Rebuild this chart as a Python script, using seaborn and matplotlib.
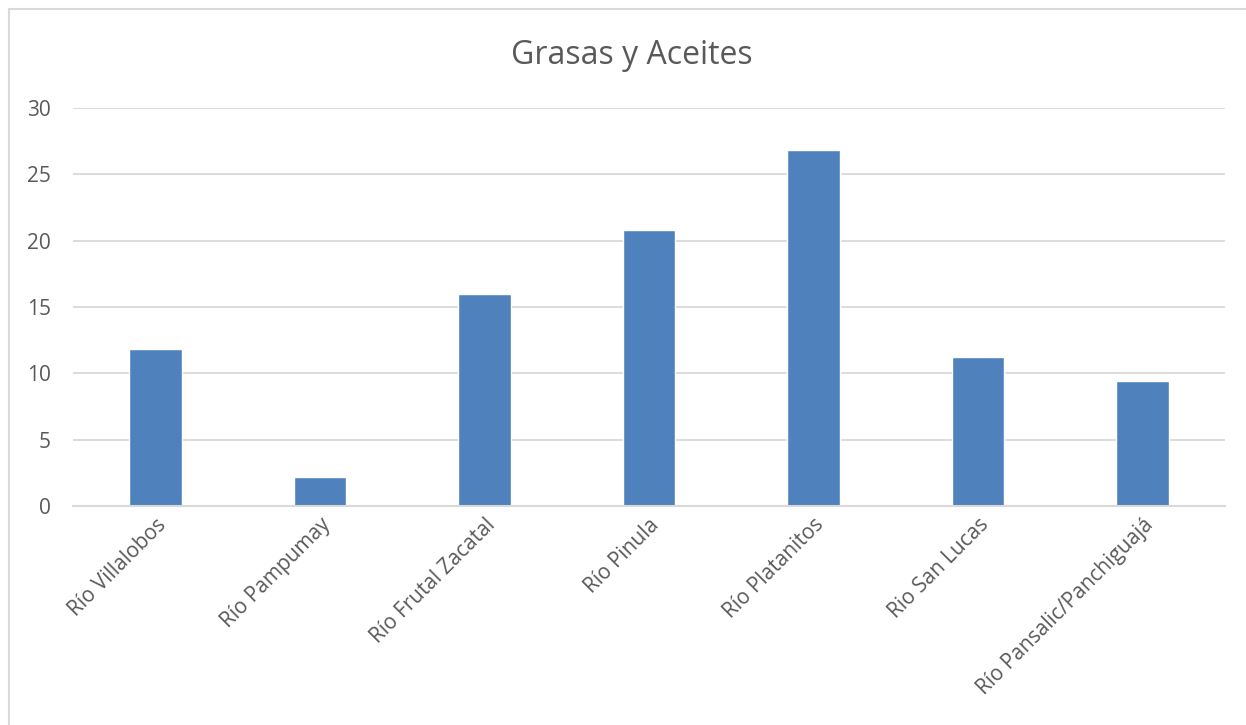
import numpy as np
import pandas as pd
import matplotlib
matplotlib.use("Agg")
import matplotlib.pyplot as plt
import seaborn as sns
from matplotlib.patches import Rectangle

# ── data ─────────────────────────────────────────────────────────────────────
rivers = ["Río Villalobos", "Río Pampumay", "Río Frutal Zacatal", "Río Pinula",
          "Río Platanitos", "Rio San Lucas", "Río Pansalic/Panchiguajá"]
values = [11.8, 2.2, 16.0, 20.8, 26.8, 11.2, 9.4]
yticks = [0, 5, 10, 15, 20, 25, 30]

BAR_COLOR = "#4F81BD"
TEXT_COLOR = "#595959"
GRID_COLOR = "#D9D9D9"

sns.set_theme(style="white")
plt.rcParams["font.family"] = ["Open Sans", "DejaVu Sans"]

df = pd.DataFrame({"river": rivers, "value": values})

fig = plt.figure(figsize=(12.46, 7.25), dpi=100)
ax = fig.add_axes([0.0586, 0.302, 0.9245, 0.549])

sns.barplot(data=df, x="river", y="value", color=BAR_COLOR, width=0.32,
            saturation=1, ax=ax, zorder=3)

ax.set_ylim(0, 30)
ax.set_yticks(yticks)
ax.set_xlim(-0.5, len(rivers) - 0.5)
ax.grid(axis="y", color=GRID_COLOR, lw=1.3, zorder=0)
ax.set_axisbelow(True)
for s in ["top", "right", "left"]:
    ax.spines[s].set_visible(False)
ax.spines["bottom"].set_color(GRID_COLOR)
ax.spines["bottom"].set_linewidth(1.5)
ax.spines["bottom"].set_zorder(4)

ax.set_xlabel("")
ax.set_ylabel("")
ax.tick_params(axis="y", length=0, pad=16, labelsize=15, labelcolor=TEXT_COLOR)
ax.tick_params(axis="x", length=0, pad=6, labelsize=15, labelcolor=TEXT_COLOR)
plt.setp(ax.get_xticklabels(), rotation=45, ha="right", rotation_mode="anchor")

fig.text(0.507, 0.924, "Grasas y Aceites", ha="center", va="center",
         fontsize=23, color=TEXT_COLOR)

# chart frame
fig.patches.append(Rectangle((9 / 1246, -0.05), 1.1, 1 - 9 / 725 + 0.05,
                             transform=fig.transFigure, fill=False,
                             edgecolor=GRID_COLOR, lw=1.5))

fig.savefig("out.png", dpi=100, facecolor="white")
